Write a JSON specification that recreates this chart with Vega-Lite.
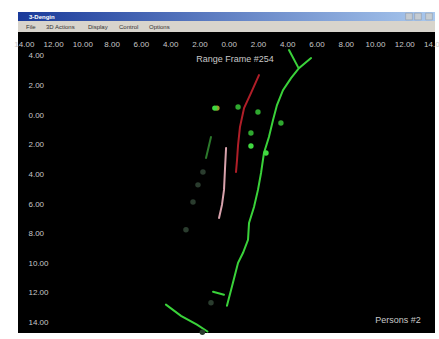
{
  "$schema": "https://vega.github.io/schema/vega-lite/v6.json",
  "autosize": {"type": "pad"},
  "padding": {"left": 13, "top": 12, "right": 0, "bottom": 0},
  "background": "#ffffff",
  "spacing": 0,
  "config": {"view": {"stroke": null}, "concat": {"spacing": 0}, "axis": {"labelOverlap": false}},
  "datasets": {
    "lines": [
      {"s": "g1", "kind": "green", "o": 1, "x": 5.63, "y": -3.84},
      {"s": "g1", "kind": "green", "o": 2, "x": 4.80, "y": -3.16},
      {"s": "g1", "kind": "green", "o": 3, "x": 4.26, "y": -2.49},
      {"s": "g1", "kind": "green", "o": 4, "x": 3.71, "y": -1.68},
      {"s": "g1", "kind": "green", "o": 5, "x": 3.30, "y": -0.67},
      {"s": "g1", "kind": "green", "o": 6, "x": 3.03, "y": 0.34},
      {"s": "g1", "kind": "green", "o": 7, "x": 2.75, "y": 1.48},
      {"s": "g1", "kind": "green", "o": 8, "x": 2.41, "y": 2.56},
      {"s": "g1", "kind": "green", "o": 9, "x": 2.21, "y": 3.91},
      {"s": "g1", "kind": "green", "o": 10, "x": 2.00, "y": 5.05},
      {"s": "g1", "kind": "green", "o": 11, "x": 1.73, "y": 6.20},
      {"s": "g1", "kind": "green", "o": 12, "x": 1.39, "y": 7.27},
      {"s": "g1", "kind": "green", "o": 13, "x": 1.32, "y": 8.42},
      {"s": "g1", "kind": "green", "o": 14, "x": 0.98, "y": 9.29},
      {"s": "g1", "kind": "green", "o": 15, "x": 0.64, "y": 9.97},
      {"s": "g1", "kind": "green", "o": 16, "x": 0.29, "y": 11.31},
      {"s": "g1", "kind": "green", "o": 17, "x": -0.12, "y": 12.86},
      {"s": "g2", "kind": "green", "o": 1, "x": 4.12, "y": -4.38},
      {"s": "g2", "kind": "green", "o": 2, "x": 4.74, "y": -3.23},
      {"s": "g3", "kind": "green", "o": 1, "x": -1.07, "y": 11.92},
      {"s": "g3", "kind": "green", "o": 2, "x": -0.32, "y": 12.12},
      {"s": "g4", "kind": "green", "o": 1, "x": -4.29, "y": 12.79},
      {"s": "g4", "kind": "green", "o": 2, "x": -3.26, "y": 13.54},
      {"s": "g4", "kind": "green", "o": 3, "x": -2.17, "y": 14.14},
      {"s": "g4", "kind": "green", "o": 4, "x": -1.45, "y": 14.6},
      {"s": "r", "kind": "red", "o": 1, "x": 2.07, "y": -2.69},
      {"s": "r", "kind": "red", "o": 2, "x": 1.52, "y": -1.48},
      {"s": "r", "kind": "red", "o": 3, "x": 1.05, "y": -0.47},
      {"s": "r", "kind": "red", "o": 4, "x": 0.77, "y": 0.81},
      {"s": "r", "kind": "red", "o": 5, "x": 0.64, "y": 2.02},
      {"s": "r", "kind": "red", "o": 6, "x": 0.57, "y": 3.03},
      {"s": "r", "kind": "red", "o": 7, "x": 0.50, "y": 3.84},
      {"s": "p", "kind": "pink", "o": 1, "x": -0.18, "y": 2.22},
      {"s": "p", "kind": "pink", "o": 2, "x": -0.25, "y": 3.57},
      {"s": "p", "kind": "pink", "o": 3, "x": -0.32, "y": 5.05},
      {"s": "p", "kind": "pink", "o": 4, "x": -0.46, "y": 6.06},
      {"s": "p", "kind": "pink", "o": 5, "x": -0.66, "y": 6.94},
      {"s": "g5", "kind": "dim", "o": 1, "x": -1.21, "y": 1.48},
      {"s": "g5", "kind": "dim", "o": 2, "x": -1.42, "y": 2.36},
      {"s": "g5", "kind": "dim", "o": 3, "x": -1.55, "y": 2.90}
    ],
    "dots": [
      {"kind": "glow", "x": -0.80, "y": -0.47},
      {"kind": "blob", "x": -0.95, "y": -0.47},
      {"kind": "blob", "x": 1.52, "y": 2.09},
      {"kind": "blob", "x": 2.55, "y": 2.56},
      {"kind": "dot", "x": 1.52, "y": 1.21},
      {"kind": "dot", "x": 0.64, "y": -0.54},
      {"kind": "dot", "x": 2.00, "y": -0.20},
      {"kind": "dot", "x": 3.57, "y": 0.54},
      {"kind": "faint", "x": -1.76, "y": 3.84},
      {"kind": "faint", "x": -2.10, "y": 4.71},
      {"kind": "faint", "x": -2.44, "y": 5.86},
      {"kind": "faint", "x": -2.92, "y": 7.74},
      {"kind": "faint", "x": -1.21, "y": 12.66},
      {"kind": "faint", "x": -1.8, "y": 14.65}
    ],
    "labels": [
      {"t": "Range Frame #254", "x": 0.43, "y": -3.77},
      {"t": "Persons #2", "x": 11.57, "y": 13.8}
    ],
    "menu": [
      {"t": "File", "pos": 8},
      {"t": "3D Actions", "pos": 28},
      {"t": "Display", "pos": 70},
      {"t": "Control", "pos": 101},
      {"t": "Options", "pos": 131}
    ],
    "titlebar": [
      {"t": "3-Dengin", "pos": 11}
    ],
    "buttons": [
      {"b": "min", "pos": 391},
      {"b": "max", "pos": 400},
      {"b": "close", "pos": 411}
    ]
  },
  "resolve": {"scale": {"x": "independent", "y": "independent"}},
  "vconcat": [
    {
      "width": 417,
      "height": 9,
      "view": {"fill": {"gradient": "linear", "x1": 0, "x2": 1, "y1": 0, "y2": 0, "stops": [{"offset": 0, "color": "#1a3a9a"}, {"offset": 1, "color": "#a9c8ee"}]}},
      "layer": [
        {
          "data": {"name": "titlebar"},
          "mark": {"type": "text", "align": "left", "baseline": "middle", "color": "#ffffff", "fontSize": 6, "fontWeight": "bold", "font": "Liberation Sans"},
          "encoding": {
            "x": {"field": "pos", "type": "quantitative", "scale": {"domain": [0, 417]}, "axis": null},
            "y": {"datum": 0.5, "type": "quantitative", "scale": {"domain": [0, 1]}, "axis": null},
            "text": {"field": "t"}
          }
        },
        {
          "data": {"name": "buttons"},
          "mark": {"type": "square", "filled": true, "color": "#d4d0c8", "size": 45, "stroke": "#808080", "strokeWidth": 0.5},
          "encoding": {
            "x": {"field": "pos", "type": "quantitative", "scale": {"domain": [0, 417]}, "axis": null},
            "y": {"datum": 0.5, "type": "quantitative", "scale": {"domain": [0, 1]}, "axis": null}
          }
        }
      ]
    },
    {
      "width": 417,
      "height": 11,
      "view": {"fill": "#d8d4cc"},
      "data": {"name": "menu"},
      "mark": {"type": "text", "align": "left", "baseline": "middle", "color": "#333333", "fontSize": 6, "font": "Liberation Sans"},
      "encoding": {
        "x": {"field": "pos", "type": "quantitative", "scale": {"domain": [0, 417]}, "axis": null},
        "y": {"datum": 0.5, "type": "quantitative", "scale": {"domain": [0, 1]}, "axis": null},
        "text": {"field": "t"}
      }
    },
    {
      "width": 417,
      "height": 301,
      "view": {"fill": "#000000"},
      "resolve": {"scale": {"color": "independent", "size": "independent"}},
      "encoding": {
        "x": {"field": "x", "type": "quantitative", "scale": {"domain": [-14.4, 14.1], "nice": false, "zero": false},
          "axis": {"orient": "top", "values": [-14, -12, -10, -8, -6, -4, -2, 0, 2, 4, 6, 8, 10, 12, 14], "labelExpr": "format(abs(datum.value), '.2f')", "title": null, "domain": false, "grid": false, "ticks": false, "tickSize": 0, "labelPadding": -12, "labelBaseline": "middle", "labelColor": "#c8c8c8", "labelFontSize": 8, "labelFont": "Liberation Sans", "labelFlush": false, "labelOverlap": false}},
        "y": {"field": "y", "type": "quantitative", "scale": {"domain": [-5.6, 14.7], "nice": false, "zero": false, "reverse": true},
          "axis": {"orient": "left", "values": [-4, -2, 0, 2, 4, 6, 8, 10, 12, 14], "labelExpr": "format(abs(datum.value), '.2f')", "title": null, "domain": false, "grid": false, "ticks": false, "tickSize": 0, "labelPadding": -10, "labelAlign": "left", "labelBaseline": "middle", "labelColor": "#c8c8c8", "labelFontSize": 8, "labelFont": "Liberation Sans", "labelFlush": false, "labelOverlap": false}}
      },
      "layer": [
        {
          "data": {"name": "lines"},
          "mark": {"type": "line", "strokeWidth": 2, "strokeCap": "round", "clip": true},
          "encoding": {
            "detail": {"field": "s"},
            "order": {"field": "o"},
            "color": {"field": "kind", "type": "nominal", "scale": {"domain": ["green", "red", "pink", "dim"], "range": ["#3ad23a", "#b01e28", "#d8a2ac", "#2c7a2c"]}, "legend": null}
          }
        },
        {
          "data": {"name": "dots"},
          "mark": {"type": "circle", "opacity": 1},
          "encoding": {
            "color": {"field": "kind", "type": "nominal", "scale": {"domain": ["glow", "blob", "dot", "faint"], "range": ["#9a9a28", "#40d840", "#2fa82f", "#2a3c2e"]}, "legend": null},
            "size": {"field": "kind", "type": "nominal", "scale": {"domain": ["glow", "blob", "dot", "faint"], "range": [28, 30, 8, 6]}, "legend": null}
          }
        },
        {
          "data": {"name": "labels"},
          "mark": {"type": "text", "color": "#c8c8c8", "fontSize": 9, "font": "Liberation Sans", "baseline": "middle"},
          "encoding": {
            "text": {"field": "t"}
          }
        }
      ]
    }
  ]
}
